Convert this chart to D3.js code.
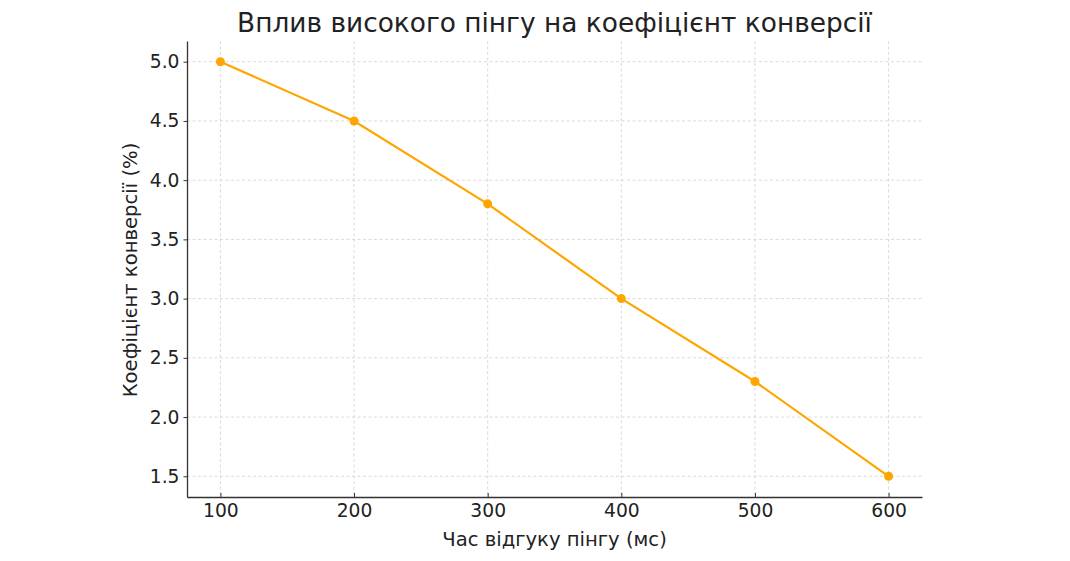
<!DOCTYPE html>
<html>
<head>
<meta charset="utf-8">
<script src="https://cdn.jsdelivr.net/npm/d3@7"></script>
<style>
body { margin: 0; background: #fff; }
text { font-family: "DejaVu Sans", sans-serif; fill: #222; }
</style>
</head>
<body>
<script>
// data
var pings = [100, 200, 300, 400, 500, 600];
var rates = [5.0, 4.5, 3.8, 3.0, 2.3, 1.5];
var xTicks = [100, 200, 300, 400, 500, 600];
var yTicks = [1.5, 2.0, 2.5, 3.0, 3.5, 4.0, 4.5, 5.0];

var width = 1070, height = 561;
var plotL = 187, plotR = 922, plotT = 41, plotB = 497;

var svg = d3.select('body').append('svg')
    .attr('width', width)
    .attr('height', height);

var xScale = d3.scaleLinear().domain([75, 625]).range([plotL, plotR]);
var yScale = d3.scaleLinear().domain([1.325, 5.175]).range([plotB, plotT]);

// grid
var grid = svg.append('g');
grid.selectAll('.vg').data(xTicks).enter().append('line')
    .attr('x1', d => xScale(d)).attr('x2', d => xScale(d))
    .attr('y1', plotT).attr('y2', plotB)
    .attr('stroke', '#d0d0d0').attr('stroke-width', 0.8)
    .attr('stroke-dasharray', '3,2.5');
grid.selectAll('.hg').data(yTicks).enter().append('line')
    .attr('x1', plotL).attr('x2', plotR)
    .attr('y1', d => yScale(d)).attr('y2', d => yScale(d))
    .attr('stroke', '#d0d0d0').attr('stroke-width', 0.8)
    .attr('stroke-dasharray', '3,2.5');

// axes
var xAxis = svg.append('g')
    .attr('transform', 'translate(0,' + plotB + ')')
    .call(d3.axisBottom(xScale).tickValues(xTicks).tickSizeInner(-4).tickPadding(7).tickSizeOuter(0));
var yAxis = svg.append('g')
    .attr('transform', 'translate(' + plotL + ',0)')
    .call(d3.axisLeft(yScale).tickValues(yTicks).tickFormat(d3.format('.1f')).tickSize(3.5).tickPadding(4).tickSizeOuter(0));

[xAxis, yAxis].forEach(function(a) {
    a.attr('font-size', null).attr('font-family', null);
    a.select('.domain').attr('stroke', '#333').attr('stroke-width', 1.3);
    a.selectAll('.tick line').attr('stroke', '#333').attr('stroke-width', 1);
    a.selectAll('.tick text').style('font-size', '18.7px').attr('fill', '#222');
});

// line
svg.append('path')
    .datum(pings.map((p, i) => [p, rates[i]]))
    .attr('fill', 'none')
    .attr('stroke', '#ffa500')
    .attr('stroke-width', 2.2)
    .attr('d', d3.line().x(d => xScale(d[0])).y(d => yScale(d[1])));

svg.selectAll('.pt').data(pings).enter().append('circle')
    .attr('cx', d => xScale(d))
    .attr('cy', (d, i) => yScale(rates[i]))
    .attr('r', 4.5)
    .attr('fill', '#ffa500');

// labels
svg.append('text')
    .text('Вплив високого пінгу на коефіцієнт конверсії')
    .attr('x', (plotL + plotR) / 2).attr('y', 32)
    .attr('text-anchor', 'middle')
    .style('font-size', '26.4px').attr('fill', '#333');

svg.append('text')
    .text('Час відгуку пінгу (мс)')
    .attr('x', (plotL + plotR) / 2).attr('y', 546)
    .attr('text-anchor', 'middle')
    .style('font-size', '19.6px');

svg.append('text')
    .text('Коефіцієнт конверсії (%)')
    .attr('transform', 'translate(137,' + ((plotT + plotB) / 2 + 1) + ') rotate(-90)')
    .attr('text-anchor', 'middle')
    .style('font-size', '19.6px');
</script>
</body>
</html>
